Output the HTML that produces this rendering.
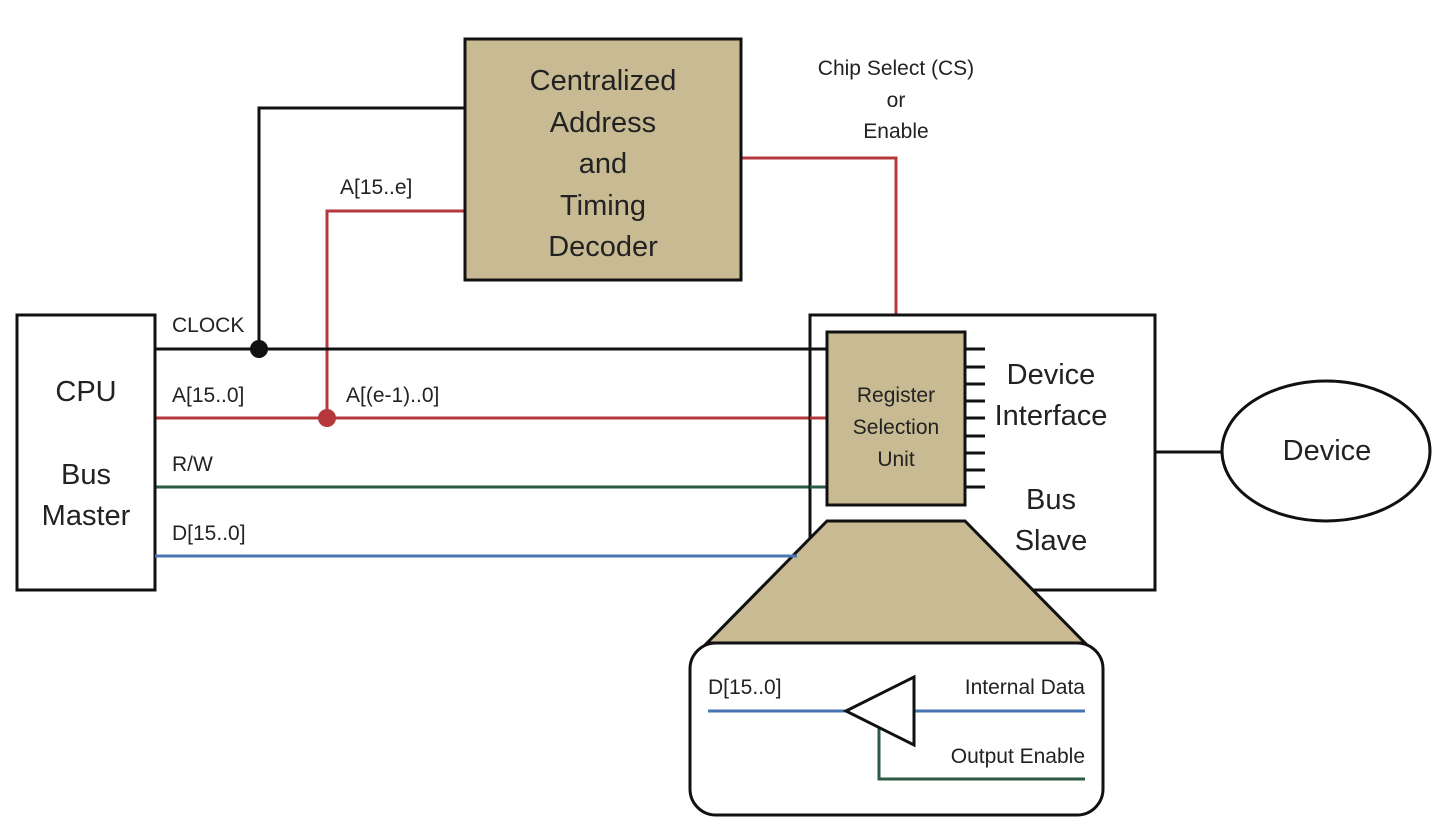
<!DOCTYPE html>
<html><head><meta charset="utf-8"><style>html,body{margin:0;padding:0;background:#fff}svg{display:block}text{font-family:"Liberation Sans",sans-serif;fill:#222}</style></head><body>
<svg width="1454" height="836" viewBox="0 0 1454 836" xmlns="http://www.w3.org/2000/svg">
<g fill="none" stroke-width="3">
<path d="M741 158H896V332" stroke="#b5383c"/>
<path d="M155 418H827M327 418V211H465" stroke="#b5383c"/>
<path d="M155 349H827M259 349V108H465" stroke="#111"/>
<path d="M155 487H827" stroke="#2d5a45"/>
<path d="M155 556H800" stroke="#4a74b4"/>
<path d="M1155 452H1222" stroke="#111"/>
</g>
<circle cx="259" cy="349" r="9" fill="#111"/>
<circle cx="327" cy="418" r="9" fill="#b5383c"/>
<rect x="17" y="315" width="138" height="275" fill="#fff" stroke="#111" stroke-width="3"/>
<rect x="465" y="39" width="276" height="241" fill="#c8bb93" stroke="#111" stroke-width="3"/>
<rect x="810" y="315" width="345" height="275" fill="#fff" stroke="#111" stroke-width="3"/>
<path d="M155 349H827" stroke="#111" stroke-width="3"/>
<path d="M810 418H827" stroke="#b5383c" stroke-width="3"/>
<path d="M810 487H827" stroke="#2d5a45" stroke-width="3"/>
<rect x="827" y="332" width="138" height="173" fill="#c8bb93" stroke="#111" stroke-width="3"/>
<path d="M965 349h20M965 367h20M965 384h20M965 401h20M965 418h20M965 436h20M965 453h20M965 470h20M965 487h20" stroke="#111" stroke-width="3"/>
<polygon points="827,521 965,521 1085,643 707,643" fill="#c8bb93" stroke="#111" stroke-width="3"/>
<path d="M155 556H797" stroke="#4a74b4" stroke-width="3"/>
<rect x="690" y="643" width="413" height="172" rx="26" fill="#fff" stroke="#111" stroke-width="3"/>
<ellipse cx="1326" cy="451" rx="104" ry="70" fill="#fff" stroke="#111" stroke-width="3"/>
<g fill="none" stroke-width="3">
<path d="M708 711H846M914 711H1085" stroke="#4a74b4"/>
<path d="M879 728V779H1085" stroke="#2d5a45"/>
<polygon points="846,711 914,677 914,745" stroke="#111"/>
</g>
<g font-size="29" text-anchor="middle">
<text x="603" y="90">Centralized</text>
<text x="603" y="132">Address</text>
<text x="603" y="173">and</text>
<text x="603" y="215">Timing</text>
<text x="603" y="256">Decoder</text>
<text x="86" y="401">CPU</text>
<text x="86" y="484">Bus</text>
<text x="86" y="525">Master</text>
<text x="1051" y="384">Device</text>
<text x="1051" y="425">Interface</text>
<text x="1051" y="509">Bus</text>
<text x="1051" y="550">Slave</text>
<text x="1327" y="460">Device</text>
</g>
<g font-size="21" text-anchor="middle">
<text x="896" y="402">Register</text>
<text x="896" y="434">Selection</text>
<text x="896" y="466">Unit</text>
<text x="896" y="75">Chip Select (CS)</text>
<text x="896" y="107">or</text>
<text x="896" y="138">Enable</text>
</g>
<g font-size="21">
<text x="172" y="332">CLOCK</text>
<text x="172" y="402">A[15..0]</text>
<text x="346" y="402">A[(e-1)..0]</text>
<text x="340" y="194">A[15..e]</text>
<text x="172" y="471">R/W</text>
<text x="172" y="540">D[15..0]</text>
<text x="708" y="694">D[15..0]</text>
<text x="1085" y="694" text-anchor="end">Internal Data</text>
<text x="1085" y="763" text-anchor="end">Output Enable</text>
</g>
</svg>
</body></html>
